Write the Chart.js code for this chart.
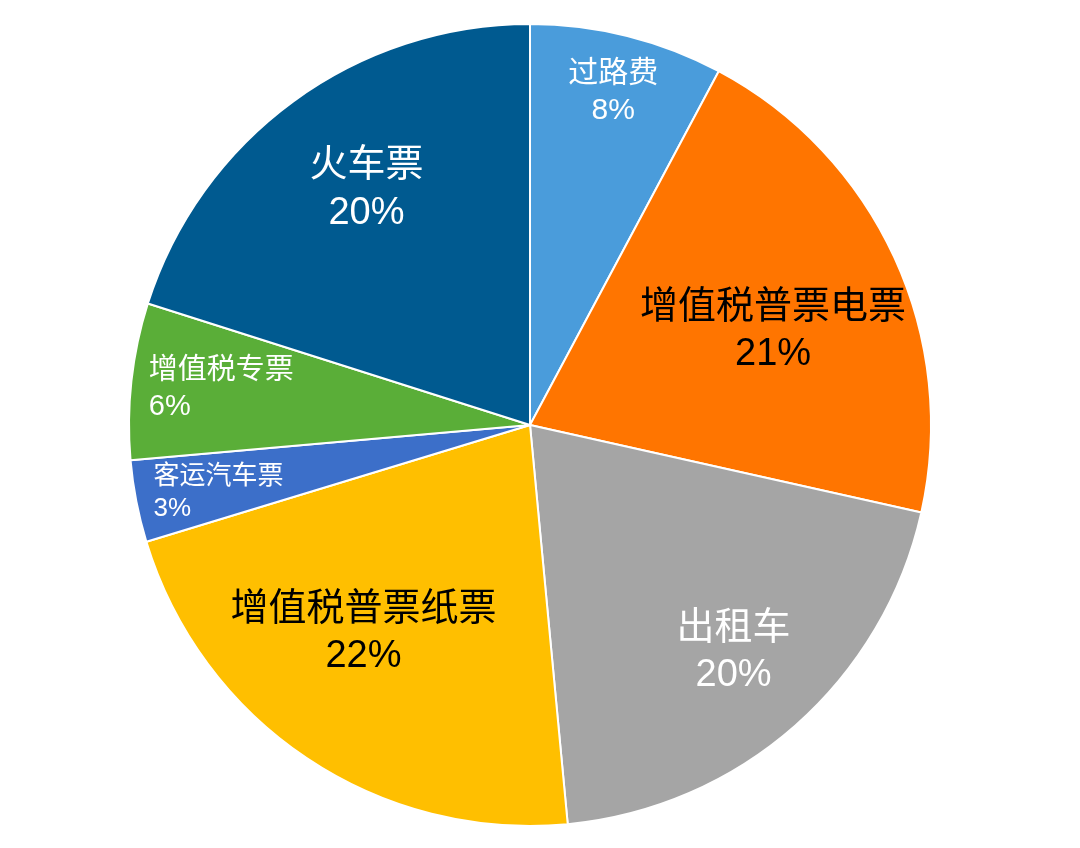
<!DOCTYPE html>
<html lang="zh">
<head>
  <meta charset="UTF-8">
  <title>票据类型占比</title>
  <script src="https://cdn.jsdelivr.net/npm/chart.js"></script>
  <style>
    html, body { margin: 0; padding: 0; background: #fff; }
    #wrap { width: 1080px; height: 848px; }
  </style>
</head>
<body>
  <div id="wrap"><canvas id="pieChart"></canvas></div>

<script>
  // slices, clockwise from 12 o'clock
  const categories = ['过路费', '增值税普票电票', '出租车', '增值税普票纸票', '客运汽车票', '增值税专票', '火车票'];
  const shares = [7.8, 20.7, 20.0, 21.8, 3.3, 6.3, 20.1];
  const colors = ['#4a9cdb', '#ff7500', '#a5a5a5', '#ffbf00', '#3c6fc9', '#5aae38', '#005a90'];
  const labelColors = ['#fff', '#000', '#fff', '#000', '#fff', '#fff', '#fff'];
  const labelSizes = [30, 38, 38, 38, 26, 29, 38];
  const labelRadius = [0.855, 0.65, 0.76, 0.665, 0.795, 0.775, 0.715];
  const labelTurn = [0, 3.5, -0.5, 4.8, -1.3, 0.4, 1.4]; // degrees
  const labelAlign = ['center', 'center', 'center', 'center', 'left', 'left', 'center'];

  const FONT = '"Liberation Sans", "Noto Sans CJK SC", sans-serif';

  const sliceLabels = {
    id: 'sliceLabels',
    afterDatasetsDraw(chart) {
      const ctx = chart.ctx;
      const meta = chart.getDatasetMeta(0);
      meta.data.forEach((arc, i) => {
        const mid = (arc.startAngle + arc.endAngle) / 2 + labelTurn[i] * Math.PI / 180;
        const r = arc.outerRadius * labelRadius[i];
        let x = arc.x + Math.cos(mid) * r;
        const y = arc.y + Math.sin(mid) * r;
        const size = labelSizes[i];
        const gap = size * 0.62;
        ctx.save();
        ctx.fillStyle = labelColors[i];
        ctx.textBaseline = 'middle';
        ctx.font = size + 'px ' + FONT;
        ctx.textAlign = labelAlign[i];
        if (labelAlign[i] === 'left') {
          x -= ctx.measureText(categories[i]).width / 2;
        }
        ctx.fillText(categories[i], x, y - gap);
        ctx.fillText(Math.round(shares[i]) + '%', x, y + gap);
        ctx.restore();
      });
    }
  };

  new Chart(document.getElementById('pieChart'), {
    type: 'pie',
    data: {
      labels: categories,
      datasets: [{
        data: shares,
        backgroundColor: colors,
        borderColor: '#fff',
        borderWidth: 2
      }]
    },
    options: {
      responsive: true,
      maintainAspectRatio: false,
      animation: false,
      radius: 401,
      layout: { padding: { left: 0, right: 20, top: 2, bottom: 0 } },
      plugins: {
        legend: { display: false },
        tooltip: { enabled: false }
      }
    },
    plugins: [sliceLabels]
  });
</script>
</body>
</html>
